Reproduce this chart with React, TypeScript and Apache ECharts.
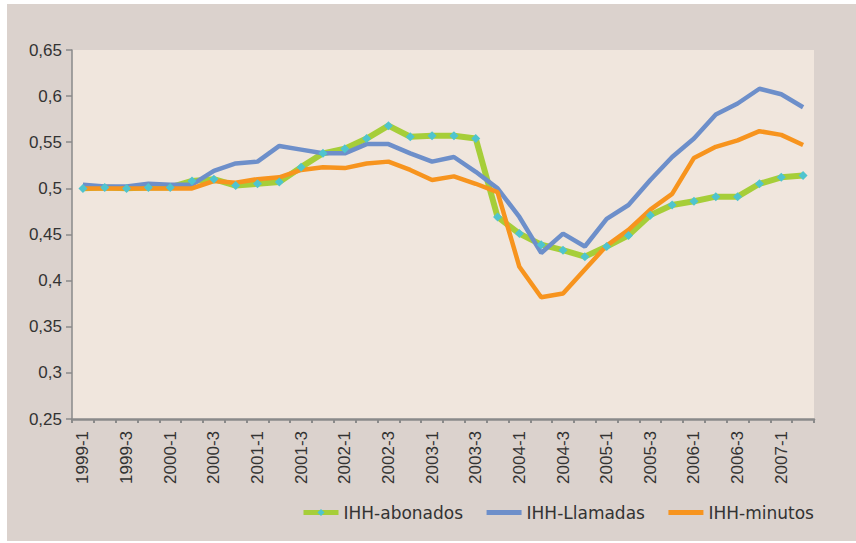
import React, { useEffect, useRef } from "react";
import * as echarts from "echarts";

const categories = [
  "1999-1", "1999-2", "1999-3", "1999-4",
  "2000-1", "2000-2", "2000-3", "2000-4",
  "2001-1", "2001-2", "2001-3", "2001-4",
  "2002-1", "2002-2", "2002-3", "2002-4",
  "2003-1", "2003-2", "2003-3", "2003-4",
  "2004-1", "2004-2", "2004-3", "2004-4",
  "2005-1", "2005-2", "2005-3", "2005-4",
  "2006-1", "2006-2", "2006-3", "2006-4",
  "2007-1", "2007-2",
];

const ihhAbonados = [
  0.500, 0.501, 0.500, 0.501, 0.501, 0.508, 0.510, 0.503, 0.505, 0.507,
  0.523, 0.538, 0.543, 0.554, 0.568, 0.556, 0.557, 0.557, 0.554, 0.469,
  0.451, 0.439, 0.433, 0.426, 0.437, 0.449, 0.471, 0.482, 0.486, 0.491,
  0.491, 0.505, 0.512, 0.514,
];

const ihhLlamadas = [
  0.504, 0.502, 0.502, 0.505, 0.504, 0.504, 0.519, 0.527, 0.529, 0.546,
  0.542, 0.538, 0.538, 0.548, 0.548, 0.538, 0.529, 0.534, 0.518, 0.500,
  0.469, 0.430, 0.451, 0.437, 0.467, 0.482, 0.509, 0.534, 0.554, 0.580,
  0.592, 0.608, 0.602, 0.588,
];

const ihhMinutos = [
  0.500, 0.500, 0.500, 0.500, 0.500, 0.500, 0.508, 0.506, 0.510, 0.512,
  0.520, 0.523, 0.522, 0.527, 0.529, 0.520, 0.509, 0.513, 0.505, 0.496,
  0.415, 0.382, 0.386, 0.412, 0.438, 0.455, 0.477, 0.494, 0.533, 0.545,
  0.552, 0.562, 0.558, 0.547,
];

const seriesNames = ["IHH-abonados", "IHH-Llamadas", "IHH-minutos"];

const yMin = 0.25;
const yMax = 0.65;
const yStep = 0.05;

const narrowFont = "'Liberation Sans Narrow', 'Arial Narrow', 'Liberation Sans', Arial, sans-serif";
const hidden = { color: "rgba(0,0,0,0)", borderColor: "rgba(0,0,0,0)", borderWidth: 0 };

export default function App() {
  const ref = useRef<HTMLDivElement>(null);

  useEffect(() => {
    if (!ref.current) return;
    const chart = echarts.init(ref.current, undefined, { renderer: "svg" });
    chart.setOption({
      animation: false,
      backgroundColor: "#dbd2cd",
      grid: {
        left: 65,
        top: 46,
        right: 42,
        bottom: 122,
        show: true,
        backgroundColor: "#f0e6dd",
        borderWidth: 0,
      },
      legend: {
        data: [
          { name: seriesNames[0] },
          { name: seriesNames[1], itemStyle: hidden },
          { name: seriesNames[2], itemStyle: hidden },
        ],
        left: 289,
        top: 495,
        itemWidth: 35,
        itemHeight: 9,
        itemGap: 21,
        lineStyle: { width: 5 },
        textStyle: {
          fontFamily: "'DejaVu Sans', sans-serif",
          fontSize: 17,
          color: "#333333",
        },
      },
      xAxis: {
        type: "category",
        data: categories,
        boundaryGap: true,
        axisLine: { show: true, lineStyle: { color: "#8a8a8a", width: 2.5 } },
        axisTick: { show: true, interval: 0, length: 4, lineStyle: { color: "#8a8a8a", width: 2 } },
        axisLabel: {
          interval: 1,
          rotate: 90,
          margin: 12,
          fontFamily: narrowFont,
          fontSize: 17,
          color: "#333333",
        },
        splitLine: { show: false },
      },
      yAxis: {
        type: "value",
        min: yMin,
        max: yMax,
        interval: yStep,
        axisLine: { show: true, lineStyle: { color: "#8a8a8a", width: 1.5 } },
        axisTick: { show: true, length: 6, lineStyle: { color: "#8a8a8a", width: 1.5 } },
        axisLabel: {
          margin: 10,
          fontFamily: narrowFont,
          fontSize: 17,
          color: "#333333",
          formatter: (v: number) => String(Math.round(v * 100) / 100).replace(".", ","),
        },
        splitLine: { show: false },
      },
      series: [
        {
          name: seriesNames[0],
          type: "line",
          data: ihhAbonados,
          symbol: "diamond",
          symbolSize: 9,
          showSymbol: true,
          itemStyle: { color: "#4fc4cf" },
          lineStyle: { color: "#a6ce39", width: 6 },
          color: "#a6ce39",
        },
        {
          name: seriesNames[1],
          type: "line",
          data: ihhLlamadas,
          symbol: "none",
          lineStyle: { color: "#6d8fca", width: 4.5 },
          itemStyle: { color: "#6d8fca" },
          color: "#6d8fca",
        },
        {
          name: seriesNames[2],
          type: "line",
          data: ihhMinutos,
          symbol: "none",
          lineStyle: { color: "#f7941e", width: 4.5 },
          itemStyle: { color: "#f7941e" },
          color: "#f7941e",
        },
      ],
    });
    return () => chart.dispose();
  }, []);

  return (
    <div style={{ position: "absolute", left: 0, top: 0, width: 856, height: 543, background: "#ffffff" }}>
      <div ref={ref} style={{ position: "absolute", left: 7, top: 4, width: 849, height: 537 }} />
    </div>
  );
}
